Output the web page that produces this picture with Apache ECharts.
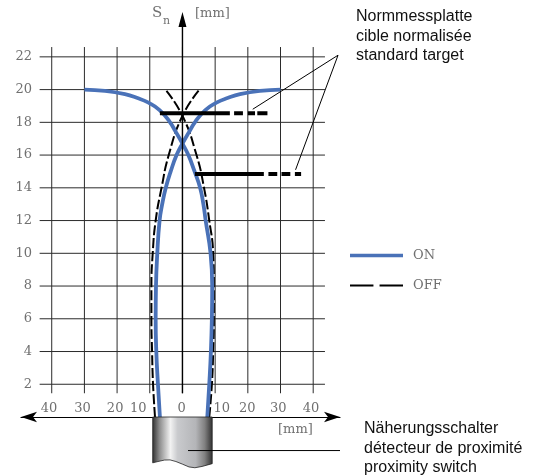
<!DOCTYPE html>
<html><head><meta charset="utf-8">
<style>html,body{margin:0;padding:0;background:#fff}#c{width:534px;height:475px}</style>
<script src="https://cdn.jsdelivr.net/npm/echarts@6/dist/echarts.min.js"></script>
</head><body><div id="c"></div>
<script>
// ---- data (x mm, Sn mm) ----
var gridXValues = [-40,-30,-20,-10,0,10,20,30,40];
var gridYValues = [2,4,6,8,10,12,14,16,18,20,22];
var xTickLabels = ['40','30','20','10','0','10','20','30','40'];
var xLabelPlaces = [-40.8,-30.6,-20.6,-13.5,-0.25,12,19.8,29.3,39.3];
var onFallingLeft = [[-6.9,0],[-7.5,2],[-8,4],[-8.2,6],[-8.1,8],[-7.7,10],[-7,12],[-6.2,13],[-5.1,14],[-3.6,15],[-1.8,16],[0,16.7],[2,17.4],[3.8,18],[7,18.75],[10.4,19.2],[14,19.5],[17.6,19.72],[23.7,19.92],[30,20]];
var onFallingRight = [[7.6,0],[8.2,2],[8.7,4],[9,6],[9.1,8],[8.6,10],[7.1,12],[6.4,13],[5.4,14],[3.7,15],[1.8,16],[0,16.7],[-2,17.4],[-3.8,18],[-7,18.75],[-10.4,19.2],[-14,19.5],[-17.6,19.72],[-23.7,19.92],[-30,20]];
var offToLeftTop = [[8.2,0],[9,2],[9.4,4],[9.6,6],[9.6,8],[9.4,10],[8.2,12],[6.6,14],[4.3,16],[0,18.4],[-5.2,20]];
var offToRightTop = [[-8.4,0],[-9,2],[-9.3,4],[-9.5,6],[-9.5,8],[-9.1,10],[-8.2,12],[-6.4,14],[-4.2,16],[0,18.4],[5.2,20]];
var targetTopSolid = [[-6.9,18.55],[14.5,18.55]];
var targetTopDashes = [[15.8,18.55],[18.5,18.55],null,[20,18.55],[22.2,18.55],null,[22.9,18.55],[26,18.55]];
var targetLowSolid = [[3.8,14.85],[24.9,14.85]];
var targetLowDashes = [[26.3,14.85],[29,14.85],null,[30.3,14.85],[33,14.85],null,[34.4,14.85],[36.3,14.85]];
var leaderTop = [[21.5,18.8],[47.6,22.1]];
var leaderLow = [[34.6,15.1],[47.6,22.1]];
var leaderSwitch = [[1.7,-2.05],[48.2,-2.05]];
var switchEdge = [[-9.1,0],[-9.1,-2.8],[-7.5,-2.72],[-5.5,-2.63],[-3.8,-2.62],[-2,-2.72],[0,-2.88],[2,-3.05],[3.8,-3.1],[6,-3.02],[9.1,-2.85],[9.1,0]];
var axisShaft = [[0,1.45],[0,24.28]];

var gridPts = [];
gridXValues.forEach(function(x){ gridPts.push([x,1.45],[x,22.6],null); });
gridYValues.forEach(function(y){ gridPts.push([-43.7,y],[43.6,y],null); });

function plain(name,data,color,width,z,dash,smooth){
  return {type:'line',name:name,data:data,showSymbol:false,symbol:'none',silent:true,z:z,smooth:!!smooth,
    connectNulls:false,clip:false,animation:false,
    lineStyle:{color:color,width:width,type:dash||'solid',cap:'butt'}};
}
var labelFont='"DejaVu Serif"', labelColor='#707070';
function note(x,y,t){return {type:'text',left:x,top:y,silent:true,style:{text:t,fill:'#111',font:'16px "Liberation Sans"',lineHeight:19.6}};}
function serif(x,y,t,s){return {type:'text',left:x,top:y,silent:true,style:{text:t,fill:labelColor,font:(s||13)+'px '+labelFont}};}

var ON_COLOR='#4a72b8';
var series=[
  plain('grid',gridPts,'#2b2b2b',1,1),
  plain('OFF',offToLeftTop,'#000',2,3,[10,3],true),
  plain('OFF',offToRightTop,'#000',2,3,[10,3],true),
  plain('ON',onFallingLeft,ON_COLOR,3.8,4,null,true),
  plain('ON',onFallingRight,ON_COLOR,3.8,4,null,true),
  plain('t1',targetTopSolid,'#000',4,5),
  plain('t2',targetTopDashes,'#000',4,5),
  plain('t3',targetLowSolid,'#000',4,5),
  plain('t4',targetLowDashes,'#000',4,5),
  plain('l1',leaderTop,'#000',1,5),
  plain('l2',leaderLow,'#000',1,5),
  {type:'custom',name:'switch',silent:true,z:6,clip:false,animation:false,data:[0],
   renderItem:function(p,api){
     var pts=switchEdge.map(function(d){return api.coord(d);});
     return {type:'polygon',shape:{points:pts},style:{
       stroke:'#222',lineWidth:0.8,
       fill:{type:'linear',x:0,y:0,x2:1,y2:0,colorStops:[
        {offset:0,color:'#2f2f2f'},{offset:0.12,color:'#8d8d8d'},{offset:0.3,color:'#f2f2f2'},
        {offset:0.42,color:'#c9cacd'},{offset:0.72,color:'#b4b5b8'},{offset:0.87,color:'#808080'},{offset:1,color:'#2f2f2f'}]}}};
   }},
  plain('l3',leaderSwitch,'#000',1,7),
  {type:'line',name:'axisY',silent:true,z:6,clip:false,animation:false,
   symbol:'triangle',symbolSize:[8,15],showSymbol:true,showAllSymbol:true,
   data:[{value:axisShaft[0],symbol:'none'},{value:axisShaft[1]}],
   itemStyle:{color:'#000'},lineStyle:{color:'#000',width:1.4}}
];

var chart=echarts.init(document.getElementById('c'),null,{renderer:'canvas'});
chart.setOption({
  animation:false,backgroundColor:'#fff',
  grid:{left:21,right:194,top:12,bottom:58,containLabel:false},
  xAxis:{type:'value',min:-49.4,max:48.2,splitLine:{show:false},
    axisLine:{show:true,onZero:true,symbol:['arrow','arrow'],symbolSize:[8,16],lineStyle:{color:'#000',width:1.2}},
    axisTick:{show:false},
    axisLabel:{show:true,inside:true,margin:2,customValues:xLabelPlaces,hideOverlap:false,
      color:labelColor,fontFamily:labelFont,fontSize:13,
      formatter:function(v){return xTickLabels[xLabelPlaces.indexOf(v)];}}},
  yAxis:{type:'value',min:0,max:24.74,splitLine:{show:false},axisLine:{show:false},axisTick:{show:false},
    axisLabel:{show:true,inside:true,margin:11,align:'right',customValues:gridYValues,hideOverlap:false,
      color:labelColor,fontFamily:labelFont,fontSize:13}},
  legend:{orient:'vertical',left:350,top:249,padding:0,itemWidth:53,itemHeight:14,itemGap:17,selectedMode:false,
    textStyle:{color:labelColor,fontFamily:labelFont,fontSize:13,padding:[19,0,0,5]},
    data:[{name:'ON',icon:'path://M0 0H53V3.5H0Z',itemStyle:{color:ON_COLOR}},
          {name:'OFF',icon:'path://M0 0H23V2H0ZM29 0H52V2H29Z',itemStyle:{color:'#000'}}]},
  graphic:[
    note(356,7,'Normmessplatte\ncible normalisée\nstandard target'),
    note(364,419,'Näherungsschalter\ndétecteur de proximité\nproximity switch'),
    serif(152,6,'S',15), serif(163,16,'n',11), serif(195,7,'[mm]',13), serif(278,423,'[mm]',13)
  ],
  series:series
});
</script></body></html>
